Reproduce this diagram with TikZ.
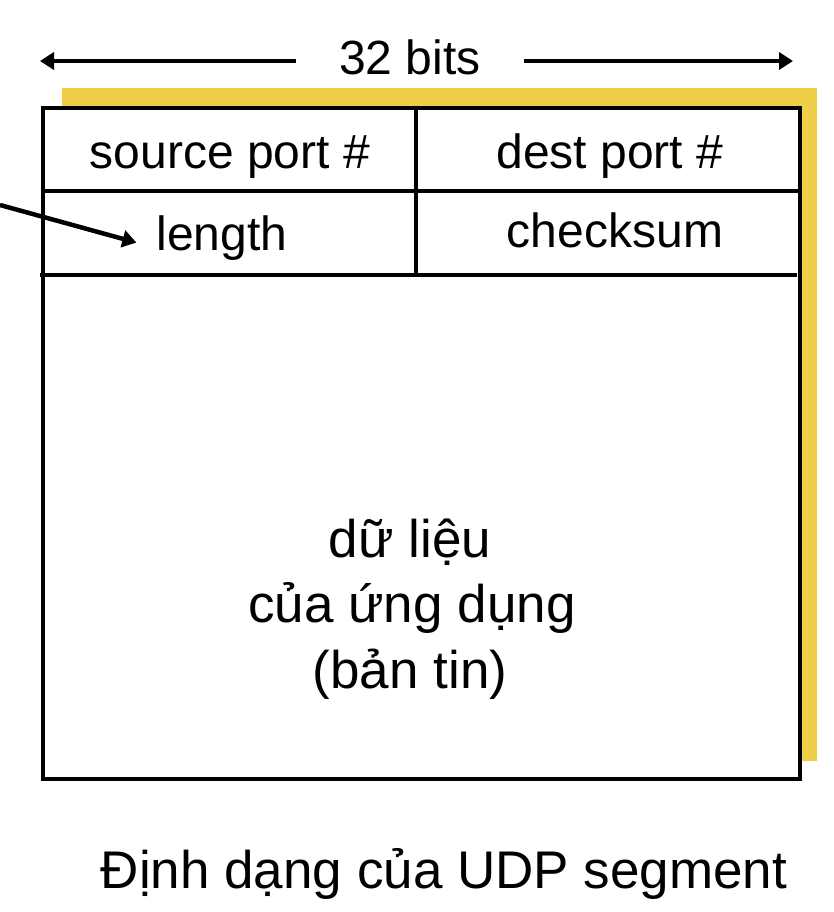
\documentclass[tikz,border=0pt]{standalone}
\usepackage{fontspec}
\setmainfont{Liberation Sans}
\usetikzlibrary{arrows.meta}
\definecolor{shadowyellow}{RGB}{240,207,72}
\begin{document}
\begin{tikzpicture}[x=1pt,y=-1pt,
  lbl/.style={font=\fontsize{48}{58}\selectfont, anchor=base, inner sep=0pt},
  big/.style={font=\fontsize{53}{64}\selectfont, anchor=base, inner sep=0pt},
  rule/.style={line width=3.5pt},
  arr/.style={line width=4.5pt, -{Triangle[length=14pt,width=17pt]}}]
\useasboundingbox (0,0) rectangle (833,912);
% shadow and box
\fill[shadowyellow] (62,88) rectangle (817,761);
\fill[white] (43,108) rectangle (800,779);
\draw[line width=4pt] (43,108) rectangle (800,779);
\draw[rule] (43,191) -- (800,191);
\draw[rule] (40,275) -- (797,275);
\draw[rule] (416,108) -- (416,275);
% header
\node[lbl, inner xsep=43pt] (bits) at (410,75) {32 bits};
\coordinate (bl) at (40,61);
\coordinate (br) at (793,61);
\draw[arr] (bits.west |- bl) -- (bl);
\draw[arr] (bits.east |- br) -- (br);
% fields
\node[lbl] (src) at (230,168) {source port \#};
\node[lbl] (dst) at (610,168) {dest port \#};
\node[lbl] (length) at (222,250) {length};
\node[lbl] (chk) at (615,247) {checksum};
\coordinate (lenfrom) at (0,205);
\draw[arr] (lenfrom) -- ([xshift=-20pt,yshift=-5pt]length.west);
% data
\node[big] (d1) at (410,557) {dữ liệu};
\node[big] (d2) at (412,622) {của ứng dụng};
\node[big] (d3) at (410,688) {(bản tin)};
% caption
\node[big] (title) at (444,888) {Định dạng của UDP segment};
\end{tikzpicture}
\end{document}
